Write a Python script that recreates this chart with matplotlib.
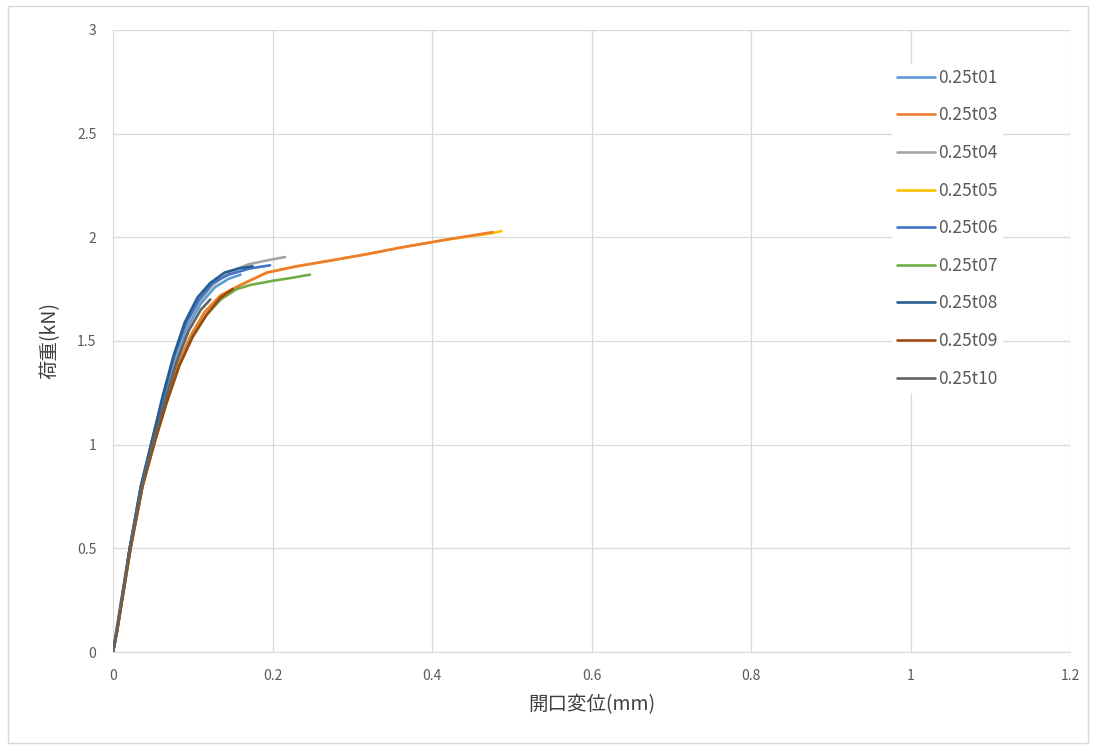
import matplotlib
matplotlib.use("Agg")
import matplotlib.pyplot as plt
from matplotlib.patches import Rectangle

plt.rcParams['font.family'] = ['Noto Sans CJK JP', 'DejaVu Sans']

# 開口変位(mm) と 荷重(kN) -- 図から読み取った値
names = ["0.25t01", "0.25t03", "0.25t04", "0.25t05", "0.25t06",
         "0.25t07", "0.25t08", "0.25t09", "0.25t10"]
colors = ["#5B9BD5", "#ED7D31", "#A5A5A5", "#FFC000", "#4472C4",
          "#70AD47", "#255E91", "#9E480E", "#636363"]

x_t01 = [0, 0.005, 0.021, 0.036, 0.05, 0.064, 0.078, 0.094, 0.11, 0.128, 0.145, 0.16]
y_t01 = [0, 0.10, 0.50, 0.80, 1.02, 1.22, 1.41, 1.57, 1.68, 1.76, 1.80, 1.82]
x_t03 = [0, 0.005, 0.022, 0.037, 0.052, 0.067, 0.082, 0.098, 0.115, 0.135, 0.16, 0.193, 0.23, 0.276, 0.32, 0.36, 0.42, 0.476]
y_t03 = [0, 0.10, 0.50, 0.80, 1.01, 1.21, 1.39, 1.53, 1.64, 1.72, 1.77, 1.83, 1.86, 1.89, 1.92, 1.95, 1.99, 2.025]
x_t04 = [0, 0.005, 0.021, 0.035, 0.049, 0.063, 0.077, 0.092, 0.108, 0.125, 0.145, 0.17, 0.195, 0.216]
y_t04 = [0, 0.10, 0.50, 0.80, 1.02, 1.23, 1.42, 1.58, 1.69, 1.77, 1.83, 1.87, 1.89, 1.905]
x_t05 = [0, 0.005, 0.022, 0.037, 0.052, 0.067, 0.082, 0.098, 0.115, 0.135, 0.16, 0.193, 0.23, 0.276, 0.32, 0.36, 0.42, 0.476, 0.487]
y_t05 = [0, 0.10, 0.50, 0.80, 1.01, 1.21, 1.39, 1.53, 1.64, 1.72, 1.77, 1.83, 1.86, 1.89, 1.92, 1.95, 1.99, 2.02, 2.03]
x_t06 = [0, 0.005, 0.021, 0.035, 0.049, 0.063, 0.077, 0.092, 0.108, 0.125, 0.145, 0.172, 0.197]
y_t06 = [0, 0.10, 0.50, 0.80, 1.02, 1.23, 1.43, 1.59, 1.70, 1.78, 1.82, 1.85, 1.865]
x_t07 = [0, 0.005, 0.022, 0.037, 0.052, 0.067, 0.083, 0.099, 0.116, 0.135, 0.155, 0.172, 0.2, 0.225, 0.247]
y_t07 = [0, 0.10, 0.50, 0.80, 1.01, 1.20, 1.38, 1.52, 1.62, 1.70, 1.75, 1.77, 1.79, 1.805, 1.82]
x_t08 = [0, 0.005, 0.021, 0.035, 0.049, 0.062, 0.076, 0.09, 0.106, 0.122, 0.14, 0.158, 0.175]
y_t08 = [0, 0.10, 0.50, 0.80, 1.02, 1.23, 1.43, 1.59, 1.71, 1.78, 1.83, 1.85, 1.86]
x_t09 = [0, 0.005, 0.022, 0.037, 0.052, 0.067, 0.083, 0.1, 0.118, 0.135, 0.15]
y_t09 = [0, 0.10, 0.50, 0.80, 1.01, 1.20, 1.38, 1.52, 1.63, 1.71, 1.75]
x_t10 = [0, 0.004, 0.021, 0.036, 0.05, 0.065, 0.08, 0.095, 0.11, 0.122]
y_t10 = [0, 0.10, 0.50, 0.80, 1.01, 1.21, 1.40, 1.55, 1.65, 1.70]

xs = [x_t01, x_t03, x_t04, x_t05, x_t06, x_t07, x_t08, x_t09, x_t10]
ys = [y_t01, y_t03, y_t04, y_t05, y_t06, y_t07, y_t08, y_t09, y_t10]

x_ticks = [0, 0.2, 0.4, 0.6, 0.8, 1.0, 1.2]
x_ticklabels = ["0", "0.2", "0.4", "0.6", "0.8", "1", "1.2"]
y_ticks = [0, 0.5, 1.0, 1.5, 2.0, 2.5, 3.0]
y_ticklabels = ["0", "0.5", "1", "1.5", "2", "2.5", "3"]

fig = plt.figure(figsize=(10.96, 7.49), dpi=100)
ax = fig.add_axes([0.1031, 0.1295, 0.8732, 0.8305])

# 描画順: t05 を t03 の下に
order = [3, 0, 1, 2, 4, 5, 6, 7, 8]
lines = {}
for i in order:
    ln, = ax.plot(xs[i], ys[i], color=colors[i], lw=1.9, label=names[i],
                  solid_capstyle='round')
    lines[i] = ln

ax.set_xlim(0, 1.2)
ax.set_ylim(0, 3)
ax.set_xticks(x_ticks)
ax.set_xticklabels(x_ticklabels)
ax.set_yticks(y_ticks)
ax.set_yticklabels(y_ticklabels)
ax.tick_params(length=0, labelsize=10, labelcolor="#595959", pad=12)
ax.grid(True, color="#D9D9D9", lw=0.9)
ax.set_axisbelow(True)
for s in ["top", "right", "left"]:
    ax.spines[s].set_visible(False)
ax.spines["bottom"].set_color("#D9D9D9")

ax.set_xlabel("開口変位(mm)", fontsize=14, color="#404040", labelpad=8)
ax.set_ylabel("荷重(kN)", fontsize=14, color="#404040", labelpad=12)

leg = ax.legend([lines[i] for i in range(9)], names, loc="upper left",
                bbox_to_anchor=(0.805, 0.96), fontsize=12.5,
                handlelength=2.2, handletextpad=0.15, labelspacing=1.13,
                frameon=True, borderpad=0.3)
leg.get_frame().set_facecolor("white")
leg.get_frame().set_edgecolor("none")
leg.get_frame().set_alpha(1)
for t in leg.get_texts():
    t.set_color("#595959")

fig.patches.append(Rectangle((0.007, 0.008), 0.986, 0.984, transform=fig.transFigure,
                             fill=False, edgecolor="#D9D9D9", lw=1.0))

fig.savefig("out.png", dpi=100)
